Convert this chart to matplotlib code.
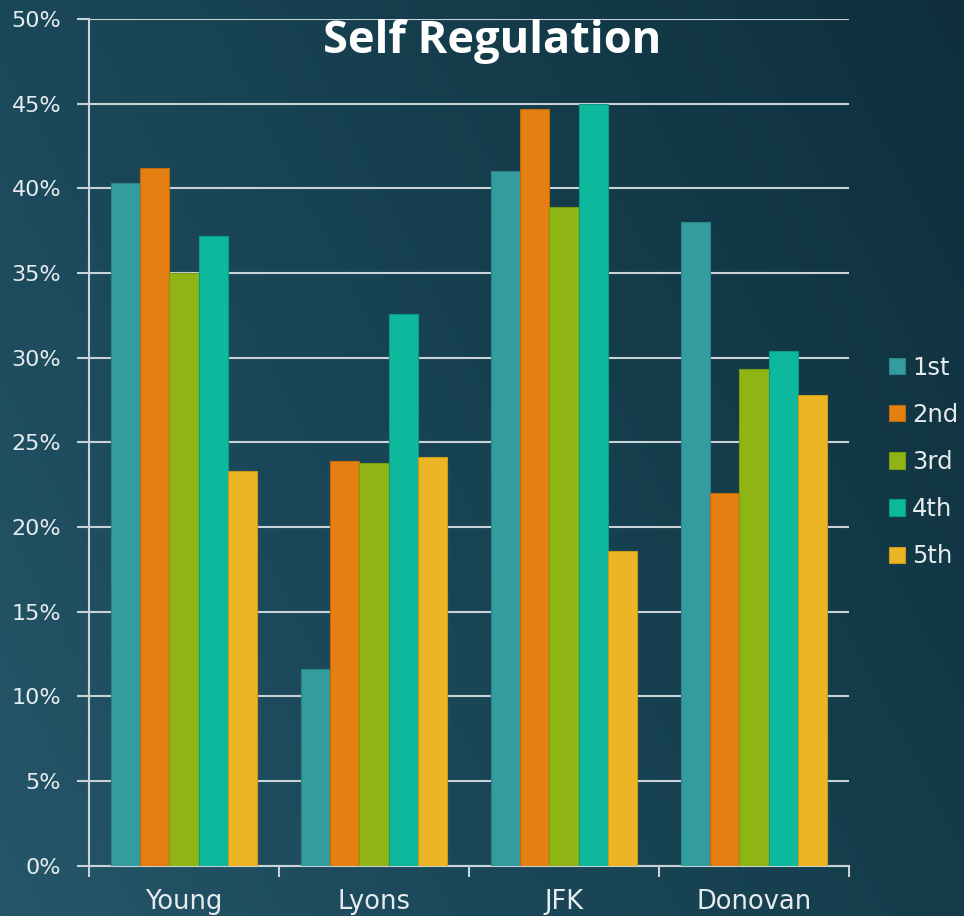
import numpy as np
import matplotlib
matplotlib.use("Agg")
import matplotlib.pyplot as plt
from matplotlib.colors import LinearSegmentedColormap

schools = ["Young", "Lyons", "JFK", "Donovan"]
grades = ["1st", "2nd", "3rd", "4th", "5th"]
g1 = [40.3, 11.6, 41.0, 38.0]
g2 = [41.2, 23.9, 44.7, 22.0]
g3 = [35.0, 23.8, 38.9, 29.3]
g4 = [37.2, 32.6, 45.0, 30.4]
g5 = [23.3, 24.15, 18.6, 27.8]
yticks = [0, 5, 10, 15, 20, 25, 30, 35, 40, 45, 50]
title = "Self Regulation"

series = [g1, g2, g3, g4, g5]
colors = ["#339c9f", "#e57f12", "#8fb515", "#0db89c", "#ebb523"]
edges = ["#2a8589", "#c06a10", "#7a9a12", "#0a9c84", "#c99a1d"]

plt.rcParams['font.family'] = ['DejaVu Sans']

W, H = 964, 916
fig = plt.figure(figsize=(W / 100, H / 100), dpi=100)

# background gradient
bg = fig.add_axes([0, 0, 1, 1])
yy, xx = np.mgrid[0:1:200j, 0:1:200j]
t = np.clip(0.7 * xx + 0.35 * (1 - yy), 0, 1.05) / 1.05
cmap = LinearSegmentedColormap.from_list("bg", ["#26566a", "#1b4859", "#143c4b", "#0f2f3c"])
bg.imshow(t, cmap=cmap, aspect="auto", extent=[0, 1, 0, 1], origin="upper")
bg.set_axis_off()

ax = fig.add_axes([89 / W, 1 - 865.5 / H, 760 / W, 846.5 / H])
ax.patch.set_alpha(0)

n = len(grades)
bw = 0.154
x = np.arange(len(schools))
for i, (vals, c, ec) in enumerate(zip(series, colors, edges)):
    ax.bar(x + (i - (n - 1) / 2) * bw, vals, width=bw, color=c,
           edgecolor=ec, linewidth=0.8, label=grades[i], zorder=3)

ax.set_xlim(-0.5, len(schools) - 0.5)
ax.set_ylim(0, 50)
grid_c = "#c9d3d7"
txt_c = "#e6ecee"
ax.set_yticks(yticks)
ax.set_yticklabels([f"{v}%" for v in yticks])
ax.yaxis.grid(True, color=grid_c, linewidth=1.5, zorder=0)
ax.set_axisbelow(True)

ax.set_xticks(np.arange(len(schools) + 1) - 0.5)
ax.set_xticklabels([])
ax.set_xticks(x, minor=True)
ax.set_xticklabels(schools, minor=True)
ax.tick_params(axis="x", which="major", length=8, width=1.5, color=grid_c, direction="out")
ax.tick_params(axis="x", which="minor", length=0, pad=17, labelsize=18.5, labelcolor=txt_c)
ax.tick_params(axis="y", length=9, width=1.5, color=grid_c, pad=11, labelsize=16, labelcolor=txt_c)

for s in ["top", "right"]:
    ax.spines[s].set_visible(False)
for s in ["left", "bottom"]:
    ax.spines[s].set_color(grid_c)
    ax.spines[s].set_linewidth(1.5)

fig.text(492 / W, 1 - 41 / H, title, ha="center", va="center",
         fontsize=32.5, fontweight="bold", color="white", family=["Open Sans", "DejaVu Sans"])

leg = fig.legend(loc="center left", bbox_to_anchor=(889 / W, 1 - 462 / H),
                 frameon=False, fontsize=17.5, labelcolor=txt_c,
                 handlelength=0.65, handleheight=0.65, handletextpad=0.3,
                 labelspacing=0.95, borderaxespad=0, borderpad=0)

fig.savefig("out.png", dpi=100)
